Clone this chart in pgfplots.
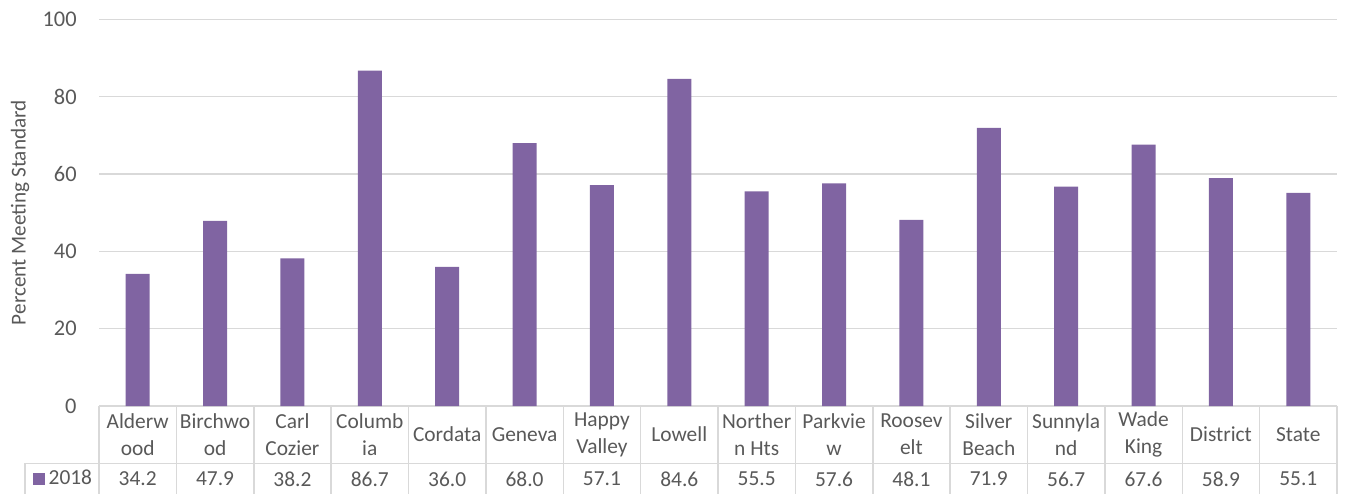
\documentclass[border=0pt]{standalone}
\usepackage{fontspec}
\setmainfont{Carlito}
\usepackage{pgfplots}
\usepackage{pgfplotstable}
\pgfplotsset{compat=1.18}
\definecolor{barpurple}{HTML}{8064A2}
\definecolor{txtgray}{HTML}{595959}
\definecolor{linegray}{HTML}{D9D9D9}
\pgfplotstableread{
x y
0 34.2
1 47.9
2 38.2
3 86.7
4 36.0
5 68.0
6 57.1
7 84.6
8 55.5
9 57.6
10 48.1
11 71.9
12 56.7
13 67.6
14 58.9
15 55.1
}\scores
\newcommand{\tabfont}{\fontsize{10.7}{13.5}\selectfont}
\begin{document}
\begin{tikzpicture}[x=1pt,y=1pt]
\useasboundingbox (0,0) rectangle (672.5,247);
% data table grid
\foreach \k in {0,...,16}{
  \draw[linegray, line width=0.75pt] ({49.5+\k*38.6875},44) -- ({49.5+\k*38.6875},0);
}
\draw[linegray, line width=0.75pt] (12.5,15.35) -- (668.5,15.35);
\draw[linegray, line width=0.75pt] (12.5,15.35) -- (12.5,0);
\begin{axis}[
  at={(49.5pt,44pt)}, anchor=south west,
  scale only axis, width=619pt, height=193.35pt,
  xmin=-0.5, xmax=15.5, ymin=0, ymax=100,
  ytick={0,20,...,100},
  xtick={0,...,15},
  xticklabels={{Alderw\\ood},{Birchwo\\od},{Carl\\Cozier},{Columb\\ia},Cordata,Geneva,{Happy\\Valley},Lowell,{Norther\\n Hts},{Parkvie\\w},{Roosev\\elt},{Silver\\Beach},{Sunnyla\\nd},{Wade\\King},District,State},
  major tick length=0pt,
  axis line style={draw=none},
  ymajorgrids, grid style={linegray, line width=0.75pt},
  clip=false,
  /pgf/number format/assume math mode=true,
  tick label style={text=txtgray},
  yticklabel style={anchor=east, inner sep=0pt, xshift=-11pt, font=\fontsize{11.2}{12}\selectfont},
  xticklabel style={anchor=center, align=center, inner sep=0pt, yshift=-14.25pt, font=\tabfont},
  ylabel={Percent Meeting Standard},
  every axis y label/.style={at={(axis description cs:-0.0637,0.5)}, rotate=90, anchor=center, text=txtgray, font=\fontsize{10.6}{12}\selectfont},
  legend style={at={(axis description cs:-0.0278,-0.1888)}, anchor=center, draw=none, fill=none, font=\tabfont, text=txtgray, inner sep=0pt},
]
\addplot[ybar, bar width=12pt, fill=barpurple, draw=none,
  legend image code/.code={\fill[barpurple] (0pt,-2.9pt) rectangle (5.8pt,2.9pt);}]
  table[x=x, y=y]{\scores};
\addlegendentry{2018}
\addplot[draw=none, mark=none, forget plot,
  nodes near coords={\pgfmathprintnumber[fixed,fixed zerofill,precision=1]{\pgfplotspointmeta}},
  nodes near coords style={anchor=center, inner sep=0pt, text=txtgray, font=\tabfont},
  point meta=explicit]
  table[x=x, y expr=-18.88, meta=y]{\scores};
\end{axis}
\end{tikzpicture}
\end{document}
